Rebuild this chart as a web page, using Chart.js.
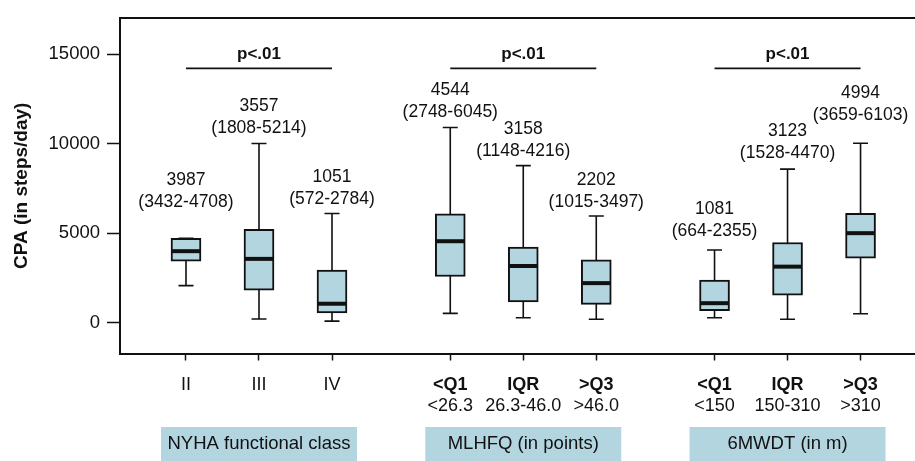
<!DOCTYPE html>
<html>
<head>
<meta charset="utf-8">
<script src="https://cdn.jsdelivr.net/npm/chart.js@4/dist/chart.umd.min.js"></script>
<style>
  html, body { margin: 0; padding: 0; background: #fff; }
  #wrap { width: 915px; height: 461px; overflow: hidden; }
</style>
</head>
<body>
<div id="wrap"><canvas id="cpaChart" width="915" height="461"></canvas></div>
<script>
// data
const groupNames = ['NYHA functional class', 'MLHFQ (in points)', '6MWDT (in m)'];
const pLabels = ['p<.01', 'p<.01', 'p<.01'];
const tickMain = ['II', 'III', 'IV', '<Q1', 'IQR', '>Q3', '<Q1', 'IQR', '>Q3'];
const tickSub = ['', '', '', '<26.3', '26.3-46.0', '>46.0', '<150', '150-310', '>310'];
const medians = [3987, 3557, 1051, 4544, 3158, 2202, 1081, 3123, 4994];
const boxLow = [3432, 1808, 540, 2570, 1148, 1015, 664, 1528, 3600];
const boxHigh = [4708, 5214, 2930, 6080, 4216, 3497, 2370, 4470, 6103];
const whiskerLow = [2060, 200, 80, 510, 270, 180, 270, 180, 490];
const whiskerHigh = [4708, 10000, 6090, 10900, 8770, 5950, 4050, 8570, 10020];
const medianText = ['3987', '3557', '1051', '4544', '3158', '2202', '1081', '3123', '4994'];
const rangeText = ['(3432-4708)', '(1808-5214)', '(572-2784)', '(2748-6045)', '(1148-4216)',
  '(1015-3497)', '(664-2355)', '(1528-4470)', '(3659-6103)'];
const labelLevel = [6725, 10846, 6909, 11752, 9566, 6746, 5081, 9458, 11605];
const pLevel = 14200;
const yTicks = [0, 5000, 10000, 15000];

const FONT = "'Liberation Sans', Arial, Helvetica, sans-serif";
const INK = '#111';
const BOX_BLUE = '#b3d5e0';

// three boxes per group, with a wider gap between groups
const xOf = (i) => 1 + i + Math.floor(i / 3) * 0.62;

const boxPlot = {
  id: 'boxPlot',
  beforeDatasetsDraw(chart) {
    const { ctx, scales: { x, y } } = chart;
    ctx.save();
    ctx.strokeStyle = INK;
    ctx.lineWidth = 1.6;
    medians.forEach((m, i) => {
      const px = x.getPixelForValue(xOf(i));
      const top = y.getPixelForValue(whiskerHigh[i]);
      const bot = y.getPixelForValue(whiskerLow[i]);
      ctx.beginPath();
      ctx.moveTo(px, top); ctx.lineTo(px, bot);
      ctx.moveTo(px - 7.5, top); ctx.lineTo(px + 7.5, top);
      ctx.moveTo(px - 7.5, bot); ctx.lineTo(px + 7.5, bot);
      ctx.stroke();
    });
    ctx.restore();
  },
  afterDatasetsDraw(chart) {
    const { ctx, scales: { x, y } } = chart;
    ctx.save();
    ctx.strokeStyle = INK;
    ctx.lineWidth = 4;
    medians.forEach((m, i) => {
      const px = x.getPixelForValue(xOf(i));
      const py = y.getPixelForValue(m);
      ctx.beginPath();
      ctx.moveTo(px - 14, py); ctx.lineTo(px + 14, py);
      ctx.stroke();
    });
    ctx.fillStyle = INK;
    ctx.textAlign = 'center';
    ctx.textBaseline = 'middle';
    ctx.font = '17.5px ' + FONT;
    medianText.forEach((t, i) => {
      const px = x.getPixelForValue(xOf(i));
      const py = y.getPixelForValue(labelLevel[i]);
      ctx.fillText(t, px, py - 22);
      ctx.fillText(rangeText[i], px, py);
    });
    ctx.restore();
  },
  afterDraw(chart) {
    const { ctx, chartArea, scales: { x, y } } = chart;
    ctx.save();
    // top frame line
    ctx.strokeStyle = INK;
    ctx.lineWidth = 2;
    ctx.beginPath();
    ctx.moveTo(chartArea.left - 1, chartArea.top);
    ctx.lineTo(chart.width, chartArea.top);
    ctx.stroke();

    // p-value brackets
    ctx.lineWidth = 1.8;
    ctx.fillStyle = INK;
    ctx.textAlign = 'center';
    ctx.textBaseline = 'middle';
    pLabels.forEach((p, g) => {
      const x0 = x.getPixelForValue(xOf(g * 3));
      const x1 = x.getPixelForValue(xOf(g * 3 + 2));
      const ly = y.getPixelForValue(pLevel);
      ctx.beginPath();
      ctx.moveTo(x0, ly); ctx.lineTo(x1, ly);
      ctx.stroke();
      ctx.font = 'bold 17px ' + FONT;
      ctx.fillText(p, (x0 + x1) / 2, y.getPixelForValue(15000));
    });

    // category labels under the axis
    tickMain.forEach((t, i) => {
      const px = x.getPixelForValue(xOf(i));
      ctx.font = (i < 3 ? '' : 'bold ') + '18px ' + FONT;
      ctx.fillText(t, px, 385);
      if (tickSub[i]) {
        ctx.font = '18px ' + FONT;
        ctx.fillText(tickSub[i], px, 406.5);
      }
    });

    // group name boxes
    groupNames.forEach((name, g) => {
      const px = x.getPixelForValue(xOf(g * 3 + 1));
      ctx.fillStyle = BOX_BLUE;
      ctx.fillRect(px - 98, 427, 196, chart.height - 427);
      ctx.fillStyle = INK;
      ctx.font = '18.5px ' + FONT;
      ctx.fillText(name, px, 444);
    });
    ctx.restore();
  }
};

new Chart(document.getElementById('cpaChart'), {
  type: 'bar',
  data: {
    datasets: [{
      data: medians.map((m, i) => ({ x: xOf(i), y: [boxLow[i], boxHigh[i]] })),
      backgroundColor: BOX_BLUE,
      borderColor: INK,
      borderWidth: 2,
      borderSkipped: false,
      barThickness: 30
    }]
  },
  options: {
    responsive: false,
    animation: false,
    layout: { padding: { top: 8, left: 0, right: 0, bottom: 0 } },
    plugins: {
      legend: { display: false },
      tooltip: { enabled: false }
    },
    scales: {
      x: {
        type: 'linear',
        min: 0.096,
        max: 10.986,
        offset: false,
        afterBuildTicks: (scale) => { scale.ticks = medians.map((m, i) => ({ value: xOf(i) })); },
        afterFit: (scale) => { scale.height = 107.5; },
        ticks: { display: false },
        grid: { offset: false, drawOnChartArea: false, drawTicks: true, tickLength: 7, tickColor: INK, tickWidth: 1.5 },
        border: { display: true, color: INK, width: 2 }
      },
      y: {
        min: -1730,
        max: 17010,
        afterBuildTicks: (scale) => { scale.ticks = yTicks.map((v) => ({ value: v })); },
        afterFit: (scale) => { scale.width = 120; },
        ticks: {
          color: INK,
          padding: 7,
          font: { family: FONT, size: 18.5 },
          callback: (v) => String(v)
        },
        grid: { drawOnChartArea: false, drawTicks: true, tickLength: 13, tickColor: INK, tickWidth: 1.5 },
        border: { display: true, color: INK, width: 2 },
        title: {
          display: true,
          text: 'CPA (in steps/day)',
          color: INK,
          font: { family: FONT, size: 19, weight: 'bold' },
          padding: { top: 10, bottom: 0 }
        }
      }
    }
  },
  plugins: [boxPlot]
});
</script>
</body>
</html>
